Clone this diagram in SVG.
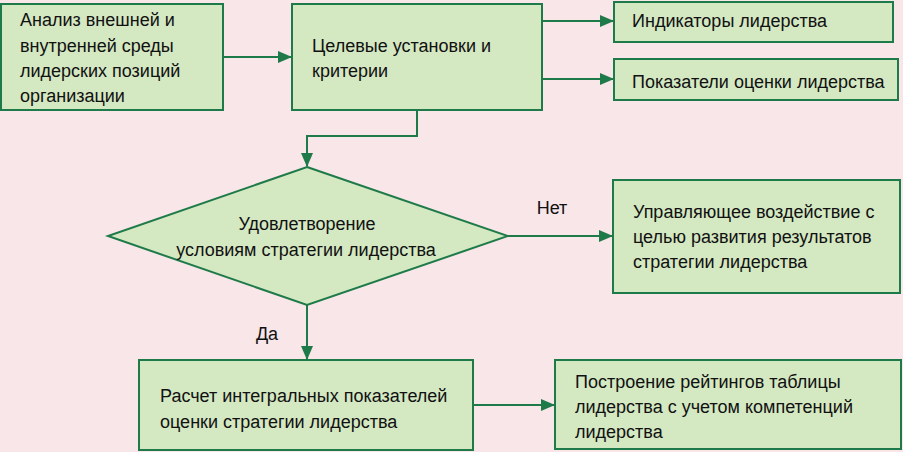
<svg xmlns="http://www.w3.org/2000/svg" width="903" height="452" viewBox="0 0 903 452">
<style>
.n{fill:#d4e8c2;stroke:#1e7a48;stroke-width:2}
.c{fill:none;stroke:#1e7a48;stroke-width:2}
text{font-family:"Liberation Sans Narrow","Liberation Sans",Arial,sans-serif;font-size:18px;fill:#111}
</style>
<defs>
<marker id="a" viewBox="0 0 14 12" refX="13" refY="6" markerWidth="14" markerHeight="12" markerUnits="userSpaceOnUse" orient="auto">
<path d="M0,0L14,6L0,12z" fill="#1e7a48"/>
</marker>
</defs>
<rect width="903" height="452" fill="#f8e6e8"/>
<g id="connectors">
<path class="c" d="M223,57H291" marker-end="url(#a)"/>
<path class="c" d="M542,21H613" marker-end="url(#a)"/>
<path class="c" d="M542,79H613" marker-end="url(#a)"/>
<path class="c" d="M417,110V136H307V166" marker-end="url(#a)"/>
<path class="c" d="M508,236H612" marker-end="url(#a)"/>
<path class="c" d="M307,305V359" marker-end="url(#a)"/>
<path class="c" d="M473,405H554" marker-end="url(#a)"/>
<text x="552" y="214" text-anchor="middle">Нет</text>
<text x="267" y="340" text-anchor="middle">Да</text>
</g>
<g id="n1">
<rect class="n" x="1" y="4" width="222" height="106"/>
<text x="20" y="26">Анализ внешней и</text>
<text x="20" y="52">внутренней среды</text>
<text x="20" y="77">лидерских позиций</text>
<text x="20" y="102">организации</text>
</g>
<g id="n2">
<rect class="n" x="292" y="4" width="250" height="106"/>
<text x="312" y="52">Целевые установки и</text>
<text x="312" y="77">критерии</text>
</g>
<g id="n3">
<rect class="n" x="614" y="2" width="279" height="40"/>
<text x="632" y="27">Индикаторы лидерства</text>
</g>
<g id="n4">
<rect class="n" x="614" y="59" width="284" height="41"/>
<text x="632" y="88">Показатели оценки лидерства</text>
</g>
<g id="n5">
<polygon class="n" points="307,167 508,236 307,305 108,236"/>
<text x="307" y="230" text-anchor="middle">Удовлетворение</text>
<text x="306" y="256" text-anchor="middle">условиям стратегии лидерства</text>
</g>
<g id="n6">
<rect class="n" x="613" y="180" width="287" height="113"/>
<text x="633" y="218">Управляющее воздействие с</text>
<text x="633" y="243">целью развития результатов</text>
<text x="633" y="268">стратегии лидерства</text>
</g>
<g id="n7">
<rect class="n" x="139" y="360" width="334" height="90"/>
<text x="160" y="402">Расчет интегральных показателей</text>
<text x="160" y="428">оценки стратегии лидерства</text>
</g>
<g id="n8">
<rect class="n" x="555" y="360" width="346" height="89"/>
<text x="575" y="388">Построение рейтингов таблицы</text>
<text x="575" y="413">лидерства с учетом компетенций</text>
<text x="575" y="438">лидерства</text>
</g>
</svg>
